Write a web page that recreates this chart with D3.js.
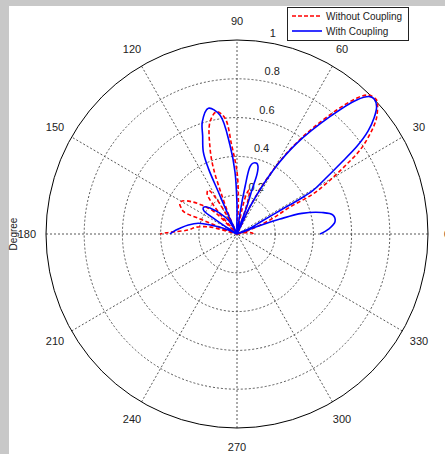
<!DOCTYPE html>
<html>
<head>
<meta charset="utf-8">
<script src="https://cdn.jsdelivr.net/npm/d3@7"></script>
<style>
  body { margin: 0; background: #c8c8c8; }
  svg { display: block; font-family: "Liberation Sans", Arial, sans-serif; }
</style>
</head>
<body>
<svg id="chart" width="445" height="454"></svg>
<script>
// angle ticks (degrees) and radial ticks
const angleTicks = [0, 30, 60, 90, 120, 150, 180, 210, 240, 270, 300, 330];
const spokeAngles = [0, 30, 60, 90, 120, 150];
const ringTicks = [0.2, 0.4, 0.6, 0.8, 1];

// "With Coupling" pattern (theta in degrees, normalised r)
const withTheta = [0, 3, 7, 11, 14, 17.4, 18.9, 19.8, 21,
  23.4, 26.6, 28.3, 28.7, 29.4, 31.6, 33.8, 35.7, 37.7, 39.8, 41.9, 44, 45.5, 47.8, 51.2, 56.2, 60, 64.2, 67,
  70, 71, 71.3, 72.6, 74.2, 77, 78.9, 80.2, 81.7, 84.5,
  90, 91.9, 94.6, 98.3, 103, 107.4, 109.6, 112.6, 113.9, 114.2, 114.9, 116.5,
  122, 130, 136, 140, 143, 145.5, 146.5, 147.5, 151,
  156, 160.4, 164.8, 169.8, 174.4, 177.9, 180];
const withR = [0.435, 0.48, 0.517, 0.512, 0.458, 0.356, 0.238, 0.12, 0,
  0.074, 0.135, 0.256, 0.376, 0.457, 0.541, 0.649, 0.772, 0.867, 0.934, 0.982, 1.0, 0.993, 0.933, 0.776, 0.562, 0.381, 0.156, 0,
  0.15, 0.24, 0.33, 0.367, 0.379, 0.375, 0.354, 0.247, 0.108, 0,
  0.149, 0.321, 0.46, 0.62, 0.665, 0.607, 0.536, 0.459, 0.37, 0.239, 0.108, 0,
  0.08, 0.14, 0.19, 0.218, 0.222, 0.21, 0.16, 0.08, 0,
  0.05, 0.122, 0.21, 0.259, 0.30, 0.334, 0.351];

// "Without Coupling" pattern
const withoutTheta = [0, 4, 8, 11, 14,
  18, 22.7, 26.6, 27.4, 29.7, 31.8, 33.9, 36.5, 38.9, 41.4, 43.3, 46, 48, 51.5, 56.2, 60, 64, 66.5,
  70.5, 72.5, 74.5, 76.5, 78.5, 81,
  87, 88, 90, 93.5, 96, 99.6, 103.7, 107.7, 110, 111.7, 114, 116,
  119, 121, 123.5, 127, 129.5, 131, 133,
  135, 136.8, 141, 145, 149.4, 152.5, 155.5, 157.7, 158.2, 158.5, 159.5, 161,
  165, 167.3, 171, 175.4, 177.9, 179, 180];
const withoutR = [0.085, 0.08, 0.06, 0.03, 0,
  0.07, 0.187, 0.31, 0.448, 0.561, 0.665, 0.776, 0.866, 0.935, 0.981, 1.005, 0.995, 0.945, 0.79, 0.575, 0.39, 0.17, 0,
  0.12, 0.21, 0.235, 0.21, 0.12, 0,
  0.1, 0.201, 0.321, 0.46, 0.6, 0.639, 0.596, 0.464, 0.361, 0.216, 0.089, 0,
  0.12, 0.22, 0.272, 0.26, 0.2, 0.12, 0,
  0.12, 0.181, 0.237, 0.29, 0.334, 0.338, 0.32, 0.30, 0.218, 0.14, 0.06, 0,
  0.13, 0.172, 0.22, 0.256, 0.325, 0.37, 0.403];

const svg = d3.select("#chart");
const cx = 237, cy = 234, rx = 191, ry = 194;
const rad = Math.PI / 180;

const x = d3.scaleLinear().domain([-1, 1]).range([cx - rx, cx + rx]);
const y = d3.scaleLinear().domain([-1, 1]).range([cy + ry, cy - ry]);

// white axes area
svg.append("rect").attr("x", 9).attr("y", 6).attr("width", 436).attr("height", 448).attr("fill", "#fff");

const grid = svg.append("g")
  .attr("fill", "none")
  .attr("stroke", "#444")
  .attr("stroke-width", 0.9)
  .attr("stroke-dasharray", "2,2");

// dotted rings
ringTicks.filter(r => r < 1).forEach(r => {
  grid.append("ellipse")
    .attr("cx", x(0)).attr("cy", y(0))
    .attr("rx", x(r) - x(0)).attr("ry", y(0) - y(r));
});

// dotted spokes across the full diameter
spokeAngles.forEach(a => {
  const c = Math.cos(a * rad), s = Math.sin(a * rad);
  grid.append("line")
    .attr("x1", x(-c)).attr("y1", y(-s))
    .attr("x2", x(c)).attr("y2", y(s));
});

// solid outer circle
svg.append("ellipse")
  .attr("cx", x(0)).attr("cy", y(0))
  .attr("rx", x(1) - x(0)).attr("ry", y(0) - y(1))
  .attr("fill", "none").attr("stroke", "#000").attr("stroke-width", 1);

// radial tick labels at 82 degrees
const c82 = Math.cos(82 * rad), s82 = Math.sin(82 * rad);
svg.append("g").selectAll("text")
  .data(ringTicks)
  .join("text")
  .attr("x", d => x((d + 0.01) * c82) + 6)
  .attr("y", d => y((d + 0.01) * s82) - 3)
  .attr("font-size", 11)
  .attr("fill", "#222")
  .text(d => d3.format("~g")(d));

// angle labels at 1.1 * rmax
svg.append("g").selectAll("text")
  .data(angleTicks)
  .join("text")
  .attr("x", d => x(1.1 * Math.cos(d * rad)))
  .attr("y", d => y(1.1 * Math.sin(d * rad)))
  .attr("text-anchor", "middle")
  .attr("dominant-baseline", "central")
  .attr("font-size", 11)
  .attr("fill", "#222")
  .text(d => d);

svg.append("text")
  .attr("transform", `translate(17,${cy}) rotate(-90)`)
  .attr("text-anchor", "middle")
  .attr("font-size", 10)
  .attr("fill", "#222")
  .text("Degree");

const line = d3.line()
  .x(d => x(d[1] * Math.cos(d[0] * rad)))
  .y(d => y(d[1] * Math.sin(d[0] * rad)))
  .curve(d3.curveCatmullRom.alpha(0.5));

svg.append("path")
  .datum(d3.zip(withoutTheta, withoutR))
  .attr("d", line)
  .attr("fill", "none")
  .attr("stroke", "#ff0000")
  .attr("stroke-width", 1.6)
  .attr("stroke-dasharray", "4,2.5");

svg.append("path")
  .datum(d3.zip(withTheta, withR))
  .attr("d", line)
  .attr("fill", "none")
  .attr("stroke", "#0000ff")
  .attr("stroke-width", 1.6);

// legend
const legend = svg.append("g").attr("transform", "translate(287,7)");
legend.append("rect")
  .attr("x", 0.5).attr("y", 0.5).attr("width", 121).attr("height", 33)
  .attr("fill", "#fff").attr("stroke", "#222").attr("stroke-width", 1);
const items = [
  { name: "Without Coupling", color: "#ff0000", dash: "4,2" },
  { name: "With Coupling", color: "#0000ff", dash: null }
];
items.forEach((it, i) => {
  const ly = 9 + i * 15;
  legend.append("line")
    .attr("x1", 5).attr("x2", 35).attr("y1", ly).attr("y2", ly)
    .attr("stroke", it.color).attr("stroke-width", 1.6)
    .attr("stroke-dasharray", it.dash);
  legend.append("text")
    .attr("x", 39).attr("y", ly + 3.5)
    .attr("font-size", 10).attr("fill", "#222")
    .text(it.name);
});
</script>
</body>
</html>
